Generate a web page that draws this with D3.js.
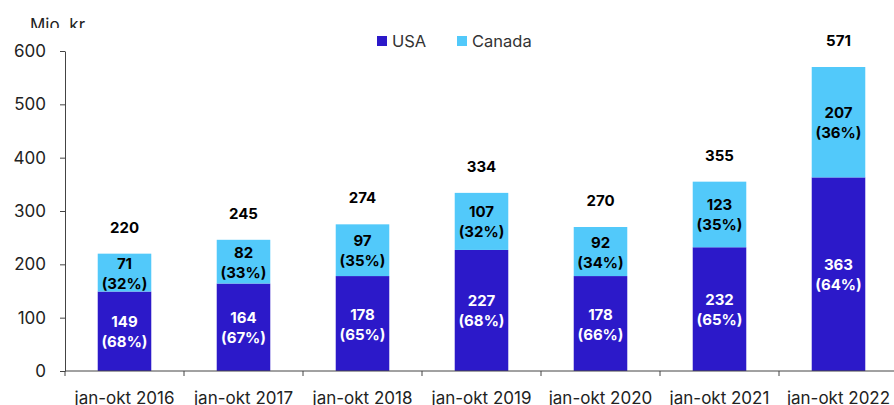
<!DOCTYPE html>
<html>
<head>
<meta charset="utf-8">
<script src="https://cdn.jsdelivr.net/npm/d3@7"></script>
<style>
  body { margin: 0; background: #fff; }
  svg { display: block; font-family: Inter, "Liberation Sans", Arial, sans-serif; }
</style>
</head>
<body>
<svg id="chart" width="894" height="405"></svg>
<script>
// chart data
const categories = ["jan-okt 2016", "jan-okt 2017", "jan-okt 2018", "jan-okt 2019", "jan-okt 2020", "jan-okt 2021", "jan-okt 2022"];
const usa = [149, 164, 178, 227, 178, 232, 363];
const canada = [71, 82, 97, 107, 92, 123, 207];
const usaPct = [68, 67, 65, 68, 66, 65, 64];
const canadaPct = [32, 33, 35, 32, 34, 35, 36];
const totals = [220, 245, 274, 334, 270, 355, 571];
const yTicks = [0, 100, 200, 300, 400, 500, 600];

const colUSA = "#2c19c9", colCanada = "#52c9fa";
const fontFam = "Inter, Liberation Sans, Arial, sans-serif";

const svg = d3.select("#chart");

// scales
const x = d3.scaleBand().domain(categories).range([65, 898]).paddingInner(0.55).paddingOuter(0.275);
const y = d3.scaleLinear().domain([0, 600]).range([371, 51]);

// y axis
const yAxis = svg.append("g")
  .attr("transform", "translate(65,0)")
  .call(d3.axisLeft(y).tickValues(yTicks).tickSize(5).tickPadding(14).tickSizeOuter(0));
yAxis.select(".domain").attr("stroke", "#444");
yAxis.selectAll(".tick line").attr("stroke", "#444");
yAxis.selectAll(".tick text").attr("font-size", 17).attr("fill", "#222")
  .attr("font-family", fontFam);

// unit label, cut off at the bottom like the source
svg.append("clipPath").attr("id", "unitclip")
  .append("rect").attr("x", 0).attr("y", 0).attr("width", 200).attr("height", 28);
svg.append("text")
  .attr("clip-path", "url(#unitclip)")
  .attr("x", 30).attr("y", 31)
  .attr("font-size", 17).attr("fill", "#222")
  .text("Mio. kr");

// bars
const g = svg.append("g");
categories.forEach((c, i) => {
  const bx = x(c), bw = x.bandwidth();
  g.append("rect").attr("x", bx).attr("width", bw)
    .attr("y", y(usa[i])).attr("height", y(0) - y(usa[i])).attr("fill", colUSA);
  g.append("rect").attr("x", bx).attr("width", bw)
    .attr("y", y(usa[i] + canada[i])).attr("height", y(usa[i]) - y(usa[i] + canada[i])).attr("fill", colCanada);

  const cx = bx + bw / 2;
  const lab = (yy, txt, col) => g.append("text").attr("x", cx).attr("y", yy)
    .attr("text-anchor", "middle").attr("font-size", 15).attr("font-weight", "bold")
    .attr("fill", col).text(txt);
  // USA labels
  const uc = (y(0) + y(usa[i])) / 2;
  lab(uc - 4, usa[i], "#fff");
  lab(uc + 16, "(" + usaPct[i] + "%)", "#fff");
  // Canada labels
  const cc = (y(usa[i]) + y(usa[i] + canada[i])) / 2;
  lab(cc - 4, canada[i], "#000");
  lab(cc + 16, "(" + canadaPct[i] + "%)", "#000");
  // total
  lab(y(usa[i] + canada[i]) - 21, totals[i], "#000");
});

// x axis
const xAxis = svg.append("g").attr("transform", "translate(0,371)");
xAxis.append("line").attr("x1", 65).attr("x2", 894).attr("y1", 0).attr("y2", 0).attr("stroke", "#444");
const step = x.step();
d3.range(categories.length).forEach(i => {
  const tx = x.range()[0] + i * step;
  xAxis.append("line").attr("x1", tx).attr("x2", tx).attr("y1", 0).attr("y2", 5).attr("stroke", "#444");
});
xAxis.selectAll("text.cat").data(categories).join("text")
  .attr("class", "cat")
  .attr("x", d => x(d) + x.bandwidth() / 2)
  .attr("y", 32.5)
  .attr("text-anchor", "middle")
  .attr("font-size", 17).attr("fill", "#222")
  .text(d => d);

// legend
const legend = svg.append("g");
[["USA", colUSA, 377], ["Canada", colCanada, 457]].forEach(([name, col, lx]) => {
  legend.append("rect").attr("x", lx).attr("y", 36).attr("width", 10).attr("height", 10).attr("fill", col);
  legend.append("text").attr("x", lx + 15).attr("y", 47).attr("font-size", 16.5).attr("fill", "#333").text(name);
});
</script>
</body>
</html>
